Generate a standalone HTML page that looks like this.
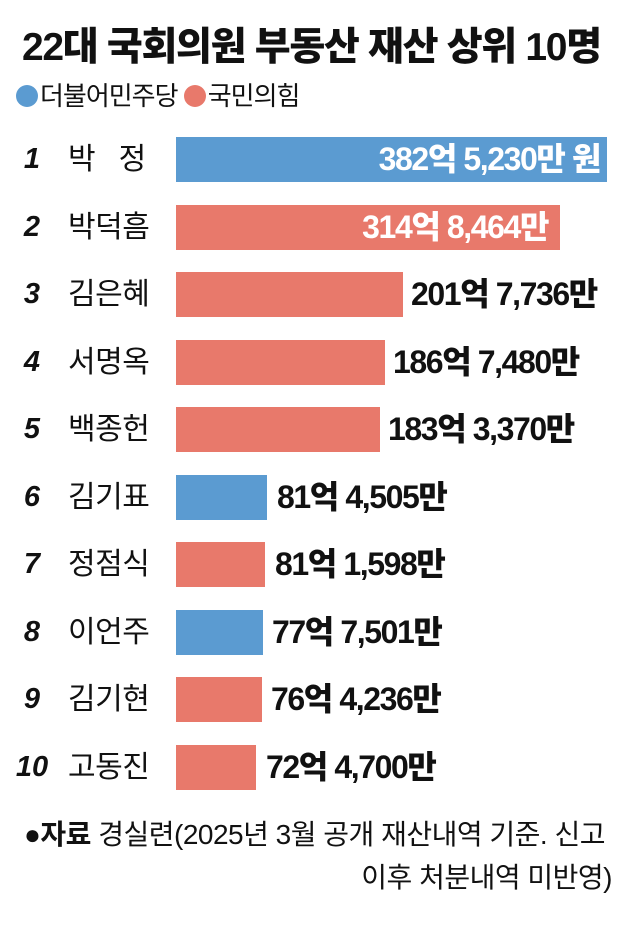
<!DOCTYPE html>
<html><head><meta charset="utf-8"><style>
body{margin:0;background:#fff;width:640px;height:934px;position:relative;overflow:hidden;font-family:"Liberation Sans","Noto Sans CJK KR",sans-serif;color:#111}
.a{position:absolute;white-space:nowrap}
.t{left:22px;top:16px;font-size:39px;font-weight:900;letter-spacing:-1.3px}
.lg{top:76px;font-size:26px;letter-spacing:-1px}
.dot{display:inline-block;width:22px;height:22px;border-radius:50%;vertical-align:-2px;margin-right:2px}
.n,.nm,.v{line-height:45px;height:45px}
.n{left:18px;font-size:29px;font-weight:700;font-style:italic;width:28px;text-align:center}
.nm{left:68px;font-size:30px;letter-spacing:-0.5px}
.b{left:176px;height:45px}
.v{font-size:32px;font-weight:900;letter-spacing:-1.4px}
.B{background:#5b9bd1}.R{background:#e8796b}
.fn{font-size:28px;letter-spacing:-0.5px}
</style></head><body>
<div class="a t">22대 국회의원 부동산 재산 상위 10명</div>
<div class="a lg" style="left:16px"><span class="dot B"></span>더불어민주당 <span class="dot R"></span>국민의힘</div>

<div class="a n" style="top:137px">1</div><div class="a nm" style="top:137px">박&nbsp;&nbsp;&nbsp;정</div>
<div class="a b B" style="top:137px;width:431px"></div><div class="a v" style="top:137px;right:40px;color:#fff">382억 5,230만 원</div>

<div class="a n" style="top:205px">2</div><div class="a nm" style="top:205px">박덕흠</div>
<div class="a b R" style="top:205px;width:384px"></div><div class="a v" style="top:205px;right:92px;color:#fff">314억 8,464만</div>

<div class="a n" style="top:272px">3</div><div class="a nm" style="top:272px">김은혜</div>
<div class="a b R" style="top:272px;width:227px"></div><div class="a v" style="top:272px;left:411px">201억 7,736만</div>

<div class="a n" style="top:340px">4</div><div class="a nm" style="top:340px">서명옥</div>
<div class="a b R" style="top:340px;width:209px"></div><div class="a v" style="top:340px;left:393px">186억 7,480만</div>

<div class="a n" style="top:407px">5</div><div class="a nm" style="top:407px">백종헌</div>
<div class="a b R" style="top:407px;width:204px"></div><div class="a v" style="top:407px;left:388px">183억 3,370만</div>

<div class="a n" style="top:475px">6</div><div class="a nm" style="top:475px">김기표</div>
<div class="a b B" style="top:475px;width:91px"></div><div class="a v" style="top:475px;left:277px">81억 4,505만</div>

<div class="a n" style="top:542px">7</div><div class="a nm" style="top:542px">정점식</div>
<div class="a b R" style="top:542px;width:89px"></div><div class="a v" style="top:542px;left:275px">81억 1,598만</div>

<div class="a n" style="top:610px">8</div><div class="a nm" style="top:610px">이언주</div>
<div class="a b B" style="top:610px;width:87px"></div><div class="a v" style="top:610px;left:272px">77억 7,501만</div>

<div class="a n" style="top:677px">9</div><div class="a nm" style="top:677px">김기현</div>
<div class="a b R" style="top:677px;width:86px"></div><div class="a v" style="top:677px;left:271px">76억 4,236만</div>

<div class="a n" style="top:745px;left:12px;width:40px">10</div><div class="a nm" style="top:745px">고동진</div>
<div class="a b R" style="top:745px;width:80px"></div><div class="a v" style="top:745px;left:266px">72억 4,700만</div>

<div class="a fn" style="left:24px;top:813px">●<b>자료</b> 경실련(2025년 3월 공개 재산내역 기준. 신고</div>
<div class="a fn" style="right:28px;top:856px">이후 처분내역 미반영)</div>
</body></html>
